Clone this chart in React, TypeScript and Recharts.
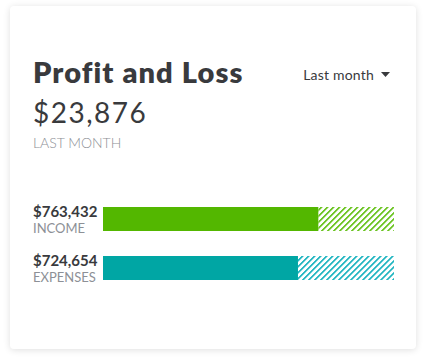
import { Bar, BarChart, XAxis, YAxis } from "recharts";

const categories = ["INCOME", "EXPENSES"];
const amounts = [763432, 724654];
// share of the bar that is solid vs. hatched (percent of the track)
const solidShare = [74, 67];
const hatchShare = [26, 33];
const colors = ["#53b700", "#00a6a4"];
const hatchColors = ["#5fbf10", "#10b0bc"];

const TITLE = "Profit and Loss";
const TOTAL = 23876;
const PERIOD = "Last month";

const FONT = "Lato, 'Open Sans', sans-serif";
const DARK = "#393a3d";
const GRAY = "#8d9096";

const rows = categories.map((name, i) => ({
  name,
  amount: amounts[i],
  solid: solidShare[i],
  hatch: hatchShare[i],
  color: colors[i],
}));

const money = (n: number) => "$" + n.toLocaleString("en-US");

function LabelTick(props: any) {
  const { y, payload } = props;
  const row = rows.find((r) => r.name === payload.value);
  if (!row) return null;
  return (
    <g>
      <text x={0} y={y - 2} fontSize={15} fontWeight={700} fill={DARK} fontFamily={FONT}>
        {money(row.amount)}
      </text>
      <text x={0} y={y + 14} fontSize={13} fill={GRAY} fontFamily={FONT}>
        {row.name}
      </text>
    </g>
  );
}

export default function App() {
  return (
    <div
      style={{
        position: "absolute",
        left: 0,
        top: 0,
        width: 427,
        height: 364,
        background: "#fff",
        fontFamily: FONT,
      }}
    >
      <div
        style={{
          position: "absolute",
          left: 10,
          top: 6,
          width: 406,
          height: 343,
          borderRadius: 4,
          background: "#fff",
          boxShadow: "0 1px 7px rgba(0,0,0,0.13)",
        }}
      >
        <div
          style={{
            position: "absolute",
            left: 23,
            top: 48,
            fontSize: 29,
            fontWeight: 800,
            color: DARK,
            lineHeight: "36px",
            letterSpacing: 1.1,
          }}
        >
          {TITLE}
        </div>
        <div
          style={{
            position: "absolute",
            right: 25,
            top: 59,
            fontSize: 14,
            color: DARK,
            lineHeight: "20px",
            display: "flex",
            alignItems: "center",
            letterSpacing: 0.2,
          }}
        >
          {PERIOD}
          <svg width={10} height={6} style={{ marginLeft: 7 }}>
            <path d="M0 0 L9 0 L4.5 5 Z" fill={DARK} />
          </svg>
        </div>
        <div
          style={{
            position: "absolute",
            left: 23,
            top: 88,
            fontSize: 28,
            fontWeight: 400,
            color: DARK,
            lineHeight: "36px",
            letterSpacing: 1.5,
          }}
        >
          {money(TOTAL)}
        </div>
        <div
          style={{
            position: "absolute",
            left: 23,
            top: 128,
            fontSize: 14,
            fontWeight: 300,
            color: GRAY,
            lineHeight: "18px",
          }}
        >
          LAST MONTH
        </div>
        <div style={{ position: "absolute", left: 23, top: 187.5 }}>
          <BarChart
            width={361}
            height={98}
            data={rows}
            layout="vertical"
            margin={{ top: 0, right: 0, bottom: 0, left: 0 }}
          >
            <defs>
              {hatchColors.map((c, i) => (
                <pattern
                  key={c}
                  id={`hatch-${i}`}
                  patternUnits="userSpaceOnUse"
                  width={4.25}
                  height={4.25}
                  patternTransform="rotate(45)"
                >
                  <line x1={0.8} y1={0} x2={0.8} y2={4.25} stroke={c} strokeWidth={1.6} />
                </pattern>
              ))}
            </defs>
            <XAxis type="number" domain={[0, 100]} hide />
            <YAxis
              type="category"
              dataKey="name"
              width={70}
              axisLine={false}
              tickLine={false}
              tick={<LabelTick />}
            />
            <Bar dataKey="solid" stackId="a" barSize={24} isAnimationActive={false}
              shape={(p: any) => (
                <rect x={p.x} y={p.y} width={p.width} height={p.height} fill={p.payload.color} />
              )}
            />
            <Bar dataKey="hatch" stackId="a" barSize={24} isAnimationActive={false}
              shape={(p: any) => (
                <rect
                  x={p.x}
                  y={p.y}
                  width={p.width}
                  height={p.height}
                  fill={`url(#hatch-${rows.indexOf(p.payload)})`}
                />
              )}
            />
          </BarChart>
        </div>
      </div>
    </div>
  );
}
